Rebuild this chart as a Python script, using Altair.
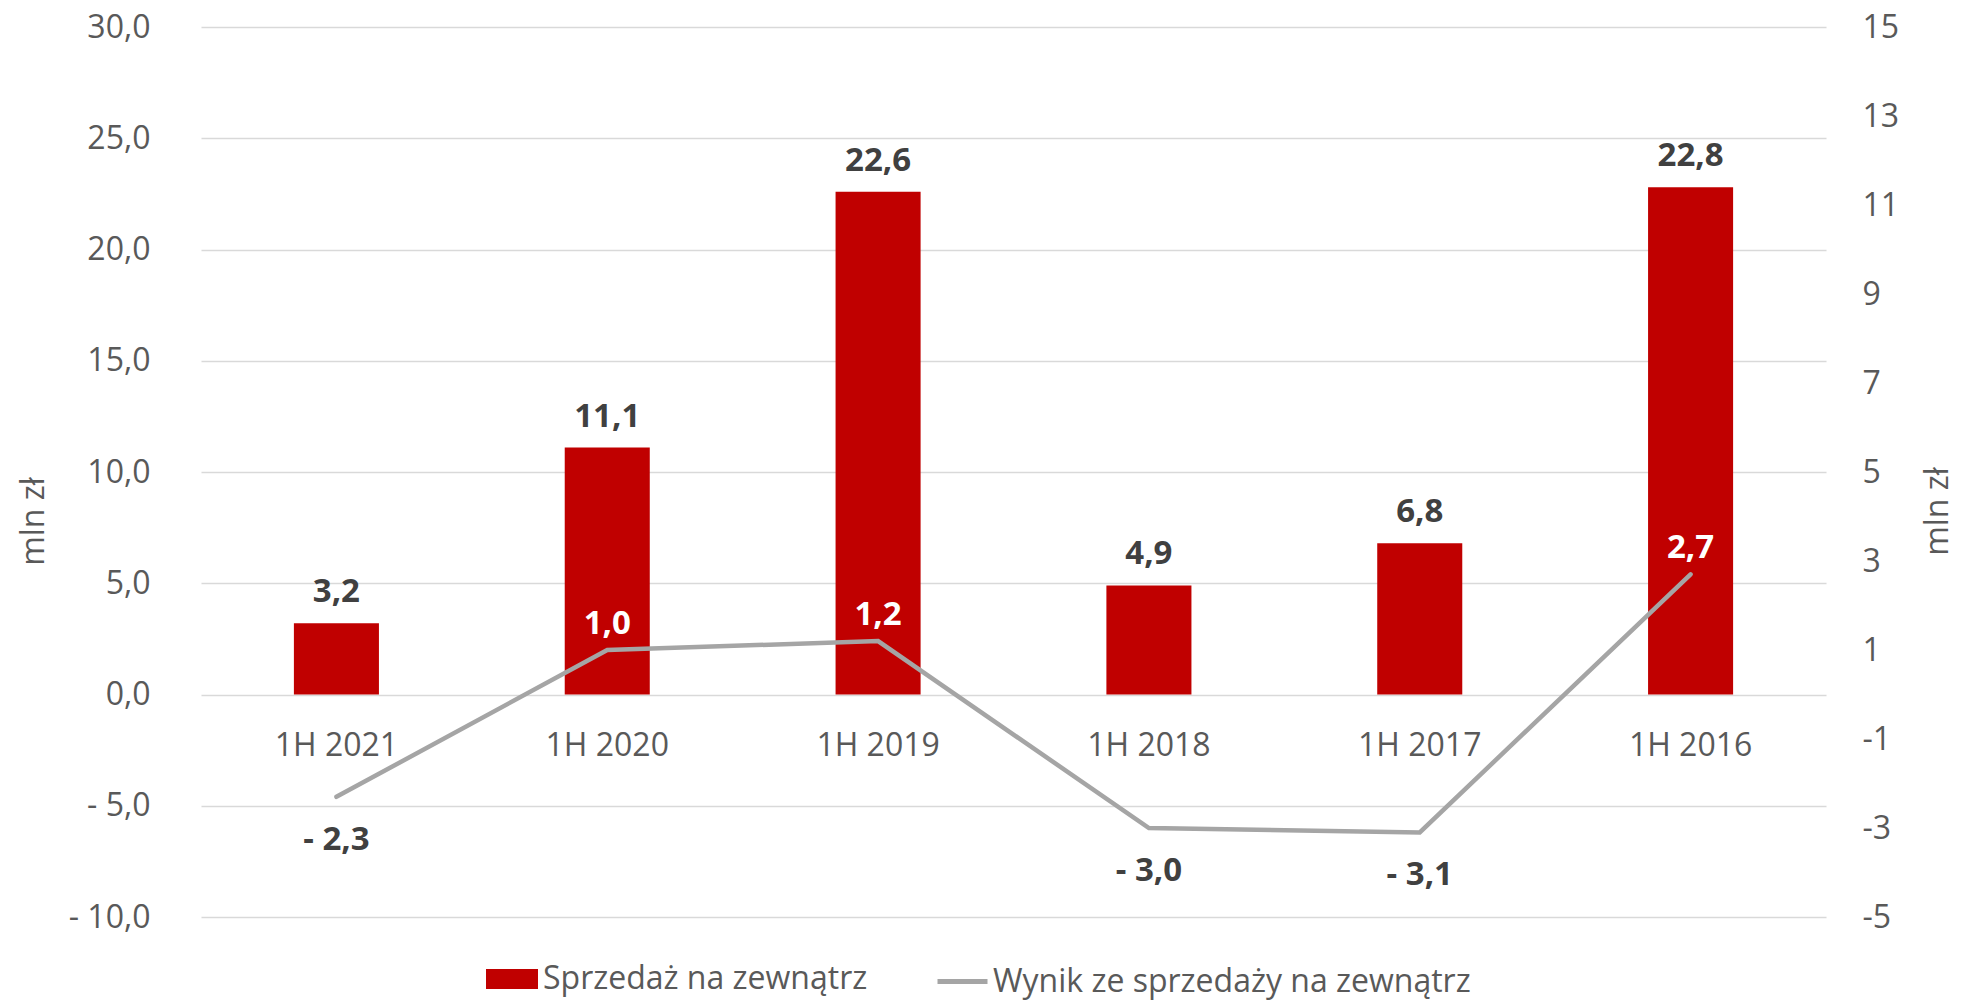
import altair as alt
import pandas as pd

okresy = ["1H 2021", "1H 2020", "1H 2019", "1H 2018", "1H 2017", "1H 2016"]
sprzedaz = [3.2, 11.1, 22.6, 4.9, 6.8, 22.8]
wynik = [-2.3, 1.0, 1.2, -3.0, -3.1, 2.7]
seria_bar = "Sprzedaż na zewnątrz"
seria_line = "Wynik ze sprzedaży na zewnątrz"
left_ticks = [-10, -5, 0, 5, 10, 15, 20, 25, 30]
right_ticks = [-5, -3, -1, 1, 3, 5, 7, 9, 11, 13, 15]

df = pd.DataFrame({
    "okres": okresy,
    "sprzedaz": sprzedaz,
    "wynik": wynik,
    "s_bar": seria_bar,
    "s_line": seria_line,
})

FONT = "Open Sans"
GREY_TXT = "#595959"
DARK_TXT = "#404040"
RED = "#C00000"
LINE = "#A5A5A5"
FS = 32
FSB = 33

xenc = alt.X(
    "okres:N",
    sort=okresy,
    scale=alt.Scale(paddingInner=0.686, paddingOuter=0.343),
    axis=alt.Axis(
        title=None, domain=False, ticks=False, labelAngle=0, offset=-222,
        labelPadding=35, labelFont=FONT, labelFontSize=FS, labelColor=GREY_TXT,
        grid=False,
    ),
)

yleft = alt.Y(
    "sprzedaz:Q",
    scale=alt.Scale(domain=[-10, 30], nice=False, zero=False),
    axis=alt.Axis(
        values=left_ticks, grid=True, gridColor="#D9D9D9", gridWidth=1.5,
        domain=False, ticks=False, labelPadding=51,
        labelExpr="datum.value < 0 ? '- ' + replace(format(-datum.value, '.1f'), '.', ',') : replace(format(datum.value, '.1f'), '.', ',')",
        labelFont=FONT, labelFontSize=FS, labelColor=GREY_TXT,
        title="mln zł", titleFont=FONT, titleFontSize=FS, titleFontWeight="normal",
        titleColor=GREY_TXT, titleAngle=270, titleX=-168, titleY=494,
        titleAlign="center", titleBaseline="middle",
    ),
)

yright = alt.Y(
    "wynik:Q",
    scale=alt.Scale(domain=[-5, 15], nice=False, zero=False),
    axis=alt.Axis(
        orient="right", values=right_ticks, grid=False, domain=False,
        ticks=False, labelPadding=36, labelFont=FONT, labelFontSize=FS,
        labelColor=GREY_TXT, labelExpr="'' + datum.value",
        title="mln zł", titleFont=FONT, titleFontSize=FS,
        titleFontWeight="normal", titleColor=GREY_TXT, titleAngle=270,
        titleX=111, titleY=484, titleAlign="center", titleBaseline="middle",
    ),
)

bars = alt.Chart().mark_bar(color=RED).encode(
    color=alt.Color(
        "s_bar:N",
        scale=alt.Scale(range=[RED]),
        legend=alt.Legend(
            title=None, orient="none", legendX=285, legendY=926, padding=0,
            symbolType="M-1,-0.385H1V0.385H-1Z", symbolSize=2704,
            symbolStrokeWidth=0, symbolFillColor=RED, labelOffset=5,
            labelFont=FONT, labelFontSize=FS, labelColor=GREY_TXT, labelLimit=800,
        ),
    ),
)

bar_labels = alt.Chart().mark_text(
    font=FONT, fontSize=FSB, fontWeight="bold", color=DARK_TXT,
    baseline="alphabetic", dy=-21,
).transform_calculate(
    lab="replace(format(datum.sprzedaz, '.1f'), '.', ',')"
).encode(text="lab:N")

line = alt.Chart().mark_line(strokeWidth=4.5, strokeCap="round", strokeJoin="miter").encode(
    stroke=alt.Stroke(
        "s_line:N",
        scale=alt.Scale(range=[LINE]),
        legend=alt.Legend(
            title=None, orient="none", legendX=734, legendY=927, padding=0,
            symbolType="stroke", symbolSize=2500, symbolStrokeWidth=5,
            labelOffset=3, labelFont=FONT, labelFontSize=FS,
            labelColor=GREY_TXT, labelLimit=800,
        ),
    ),
)

lab_expr = "(datum.wynik < 0 ? '- ' : '') + replace(format(abs(datum.wynik), '.1f'), '.', ',')"

line_pos = alt.Chart().mark_text(
    font=FONT, fontSize=FSB, fontWeight="bold", color="white",
    baseline="alphabetic", dy=-16,
).transform_filter("datum.wynik >= 0").transform_calculate(lab=lab_expr).encode(
    text="lab:N",
)

line_neg = alt.Chart().mark_text(
    font=FONT, fontSize=FSB, fontWeight="bold", color=DARK_TXT,
    baseline="alphabetic", dy=53,
).transform_filter("datum.wynik < 0").transform_calculate(lab=lab_expr).encode(
    text="lab:N",
)

left = alt.layer(bars, bar_labels).encode(x=xenc, y=yleft)
right = alt.layer(line, line_pos, line_neg).encode(x=xenc, y=yright)

chart = alt.layer(left, right, data=df).resolve_scale(
    y="independent", color="independent", stroke="independent"
).resolve_legend(
    color="independent", stroke="independent"
).properties(
    width=1625, height=890,
    autosize=alt.AutoSizeParams(type="none"),
    padding={"left": 193, "top": 19, "right": 130, "bottom": 83},
    background="white",
).configure_view(stroke=None)

chart.save("out.html", embed_options={"renderer": "svg", "actions": False})
